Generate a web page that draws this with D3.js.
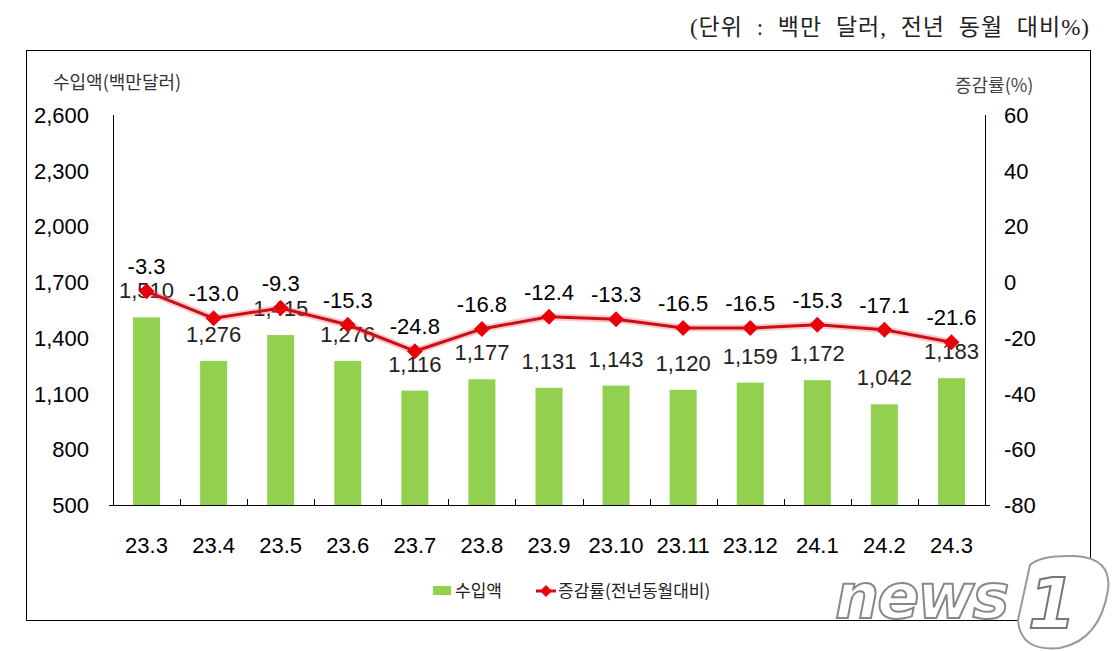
<!DOCTYPE html>
<html><head><meta charset="utf-8">
<script src="https://cdn.jsdelivr.net/npm/d3@7"></script>
<style>body{margin:0;background:#fff}svg{display:block}</style>
</head><body>
<script>
const categories = ["23.3","23.4","23.5","23.6","23.7","23.8","23.9","23.10","23.11","23.12","24.1","24.2","24.3"];
const imports = [1510,1276,1415,1276,1116,1177,1131,1143,1120,1159,1172,1042,1183];
const growth = [-3.3,-13.0,-9.3,-15.3,-24.8,-16.8,-12.4,-13.3,-16.5,-16.5,-15.3,-17.1,-21.6];
const leftTicks = [500,800,1100,1400,1700,2000,2300,2600];
const rightTicks = [-80,-60,-40,-20,0,20,40,60];

const W=1120,H=651;
const svg=d3.select("body").append("svg").attr("width",W).attr("height",H);
const font="Arial, 'Liberation Sans', sans-serif";
const kfont="'Noto Sans CJK KR', sans-serif";

// unit note
svg.append("text").attr("x",1090).attr("y",35).attr("text-anchor","end")
  .attr("font-family","'Liberation Serif', 'Noto Sans CJK KR', serif").attr("font-size",23)
  .attr("word-spacing",7).attr("letter-spacing",1).attr("fill","#222")
  .text("(단위 : 백만 달러, 전년 동월 대비%)");

// frame
svg.append("rect").attr("x",26.5).attr("y",50.5).attr("width",1064).attr("height",570)
  .attr("fill","none").attr("stroke","#000").attr("stroke-width",1);

const L=113,R=985,T=115,B=505;
const x=d3.scaleBand().domain(categories).range([L,R]);
const yL=d3.scaleLinear().domain([500,2600]).range([B,T]);
const yR=d3.scaleLinear().domain([-80,60]).range([B,T]);

// axes lines
svg.append("line").attr("x1",L+0.5).attr("x2",L+0.5).attr("y1",T).attr("y2",B).attr("stroke","#000");
svg.append("line").attr("x1",R+0.5).attr("x2",R+0.5).attr("y1",T).attr("y2",B).attr("stroke","#000");
svg.append("line").attr("x1",L).attr("x2",R+1).attr("y1",B+0.5).attr("y2",B+0.5).attr("stroke","#000");
svg.append("line").attr("x1",L-4).attr("x2",L).attr("y1",B+0.5).attr("y2",B+0.5).attr("stroke","#000");
svg.append("line").attr("x1",R).attr("x2",R+5).attr("y1",B+0.5).attr("y2",B+0.5).attr("stroke","#000");

// x tick marks at band boundaries (upward)
categories.slice(1).forEach(c=>{
  const xx=Math.round(x(c))+0.5;
  svg.append("line").attr("x1",xx).attr("x2",xx).attr("y1",B-6).attr("y2",B).attr("stroke","#000");
});

// left tick labels
svg.append("g").selectAll("text").data(leftTicks).join("text")
  .attr("x",89).attr("y",d=>yL(d)+8).attr("text-anchor","end")
  .attr("font-family",font).attr("font-size",22).attr("fill","#000")
  .text(d=>d3.format(",")(d));
// right tick labels
svg.append("g").selectAll("text").data(rightTicks).join("text")
  .attr("x",1004).attr("y",d=>yR(d)+8).attr("text-anchor","start")
  .attr("font-family",font).attr("font-size",22).attr("fill","#000")
  .text(d=>d);

// axis titles
svg.append("text").attr("x",53).attr("y",89).attr("font-family",kfont).attr("font-size",18)
  .attr("fill","#333").text("수입액(백만달러)");
svg.append("text").attr("x",955).attr("y",92).attr("font-family",kfont).attr("font-size",18)
  .attr("fill","#444").text("증감률(%)");

// x labels
svg.append("g").selectAll("text").data(categories).join("text")
  .attr("x",d=>x(d)+x.bandwidth()/2).attr("y",553).attr("text-anchor","middle")
  .attr("font-family",font).attr("font-size",22).attr("fill","#000").text(d=>d);

// bars
const bw=27;
svg.append("g").selectAll("rect").data(imports).join("rect")
  .attr("x",(d,i)=>x(categories[i])+x.bandwidth()/2-bw/2)
  .attr("y",d=>yL(d)).attr("width",bw).attr("height",d=>B-yL(d))
  .attr("fill","#92d050");

// bar labels
svg.append("g").selectAll("text").data(imports).join("text")
  .attr("x",(d,i)=>x(categories[i])+x.bandwidth()/2).attr("y",d=>yL(d)-19)
  .attr("text-anchor","middle").attr("font-family",font).attr("font-size",22).attr("fill","#222")
  .text(d=>d3.format(",")(d));

// line with glow
const line=d3.line().x((d,i)=>x(categories[i])+x.bandwidth()/2).y(d=>yR(d));
svg.append("path").datum(growth).attr("d",line).attr("fill","none")
  .attr("stroke","#ff6060").attr("stroke-opacity",0.35).attr("stroke-width",7).attr("stroke-linejoin","round");
svg.append("path").datum(growth).attr("d",line).attr("fill","none")
  .attr("stroke","#c8101a").attr("stroke-width",3).attr("stroke-linejoin","round");
svg.append("g").selectAll("path").data(growth).join("path")
  .attr("transform",(d,i)=>`translate(${x(categories[i])+x.bandwidth()/2},${yR(d)})`)
  .attr("d","M0,-8L8,0L0,8L-8,0Z").attr("fill","#e8000b");
svg.append("g").selectAll("text").data(growth).join("text")
  .attr("x",(d,i)=>x(categories[i])+x.bandwidth()/2).attr("y",d=>yR(d)-17)
  .attr("text-anchor","middle").attr("font-family",font).attr("font-size",22).attr("fill","#000")
  .text(d=>d.toFixed(1));

// legend
svg.append("rect").attr("x",433).attr("y",586).attr("width",18).attr("height",9).attr("fill","#92d050");
svg.append("text").attr("x",455).attr("y",597).attr("font-family",kfont).attr("font-size",17).attr("fill","#222").text("수입액");
svg.append("line").attr("x1",536).attr("x2",556).attr("y1",591).attr("y2",591).attr("stroke","#c8101a").attr("stroke-width",3);
svg.append("path").attr("transform","translate(546,591)").attr("d","M0,-6L6,0L0,6L-6,0Z").attr("fill","#e8000b");
svg.append("text").attr("x",558).attr("y",597).attr("font-family",kfont).attr("font-size",17).attr("fill","#222").text("증감률(전년동월대비)");

// watermark
const wm=svg.append("g");
wm.append("path").attr("d","M1030,565 Q1040,555 1075,556 Q1112,558 1108,590 Q1100,640 1060,648 Q1020,652 1018,620 Z")
  .attr("fill","#fff").attr("stroke","#999").attr("stroke-width",2);
wm.append("text").attr("x",1052).attr("y",628).attr("text-anchor","middle")
  .attr("font-family","'DejaVu Sans', sans-serif").attr("font-weight","bold").attr("font-style","italic")
  .attr("font-size",70).attr("fill","#fff").attr("stroke","#777").attr("stroke-width",2).text("1");
wm.append("text").attr("x",835).attr("y",618)
  .attr("font-family","'DejaVu Sans', sans-serif").attr("font-weight","bold").attr("font-style","italic")
  .attr("font-size",62).attr("letter-spacing",-2).attr("fill","#fff").attr("stroke","#888").attr("stroke-width",2).text("news");
</script>
</body></html>
